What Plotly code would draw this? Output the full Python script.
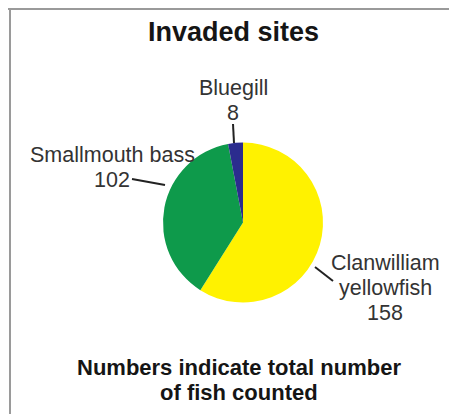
import plotly.graph_objects as go

# ---- data ----
species = ["Clanwilliam yellowfish", "Smallmouth bass", "Bluegill"]
label_lines = [["Clanwilliam", "yellowfish"], ["Smallmouth bass"], ["Bluegill"]]
counts = [158, 102, 8]
colors = ["#FFF200", "#0E9A4B", "#2B2C8E"]
title_text = "Invaded sites"
note_lines = ["Numbers indicate total number", "of fish counted"]

# page body has an 8px margin; figure is sized to fit the rest of the window
W, H = 457, 414
OFF = 8
FW, FH = W - OFF, H - OFF


def px(x):
    return (x - OFF) / FW


def py(y):
    return 1 - (y - OFF) / FH


fig = go.Figure(
    go.Pie(
        labels=species,
        values=counts,
        marker=dict(colors=colors, line=dict(width=0)),
        sort=False,
        direction="clockwise",
        rotation=0,
        textinfo="none",
        hoverinfo="label+value",
        showlegend=False,
        domain=dict(x=[px(163), px(323)], y=[py(302.5), py(142.5)]),
    )
)

label_font = dict(family="Liberation Sans, Arial, sans-serif", size=21.5, color="#333333")
# (center x, first line center y) for each label block
label_pos = [(385, 263), (112, 155), (233, 88)]
LINE_STEP = 24.8
annotations = []
for lines, n, (x, y) in zip(label_lines, counts, label_pos):
    for i, t in enumerate(lines + [str(n)]):
        annotations.append(
            dict(
                text=t, x=px(x), y=py(y + i * LINE_STEP), xref="paper", yref="paper",
                xanchor="center", yanchor="middle", showarrow=False, font=label_font,
            )
        )

annotations.append(
    dict(
        text=title_text, x=px(233.5), y=py(32), xref="paper", yref="paper",
        xanchor="center", yanchor="middle", showarrow=False,
        font=dict(family="Liberation Sans, Arial, sans-serif", size=27, color="#151515",
                  weight="bold"),
    )
)
for i, t in enumerate(note_lines):
    annotations.append(
        dict(
            text="<b>" + t + "</b>",
            x=px(238.5), y=py(367 + i * 25), xref="paper", yref="paper",
            xanchor="center", yanchor="middle", showarrow=False,
            font=dict(family="Liberation Sans, Arial, sans-serif", size=22, color="#151515"),
        )
    )

leaders = [((315, 267), (333, 281)), ((132, 179), (165, 185)), ((233, 124), (234, 143))]
shapes = []
for (x0, y0), (x1, y1) in leaders:
    shapes.append(dict(type="line", xref="paper", yref="paper",
                       x0=px(x0), y0=py(y0), x1=px(x1), y1=py(y1),
                       line=dict(color="#222222", width=2)))
# frame lines (top and left)
shapes.append(dict(type="line", xref="paper", yref="paper", x0=0, x1=1, y0=py(9), y1=py(9),
                   line=dict(color="#9a9a9a", width=2)))
shapes.append(dict(type="line", xref="paper", yref="paper", x0=px(10), x1=px(10), y0=py(8), y1=0,
                   line=dict(color="#9a9a9a", width=2)))

fig.update_layout(
    width=FW, height=FH,
    margin=dict(l=0, r=0, t=0, b=0),
    paper_bgcolor="#ffffff",
    plot_bgcolor="#ffffff",
    annotations=annotations,
    shapes=shapes,
)

fig.write_html("out.html")
